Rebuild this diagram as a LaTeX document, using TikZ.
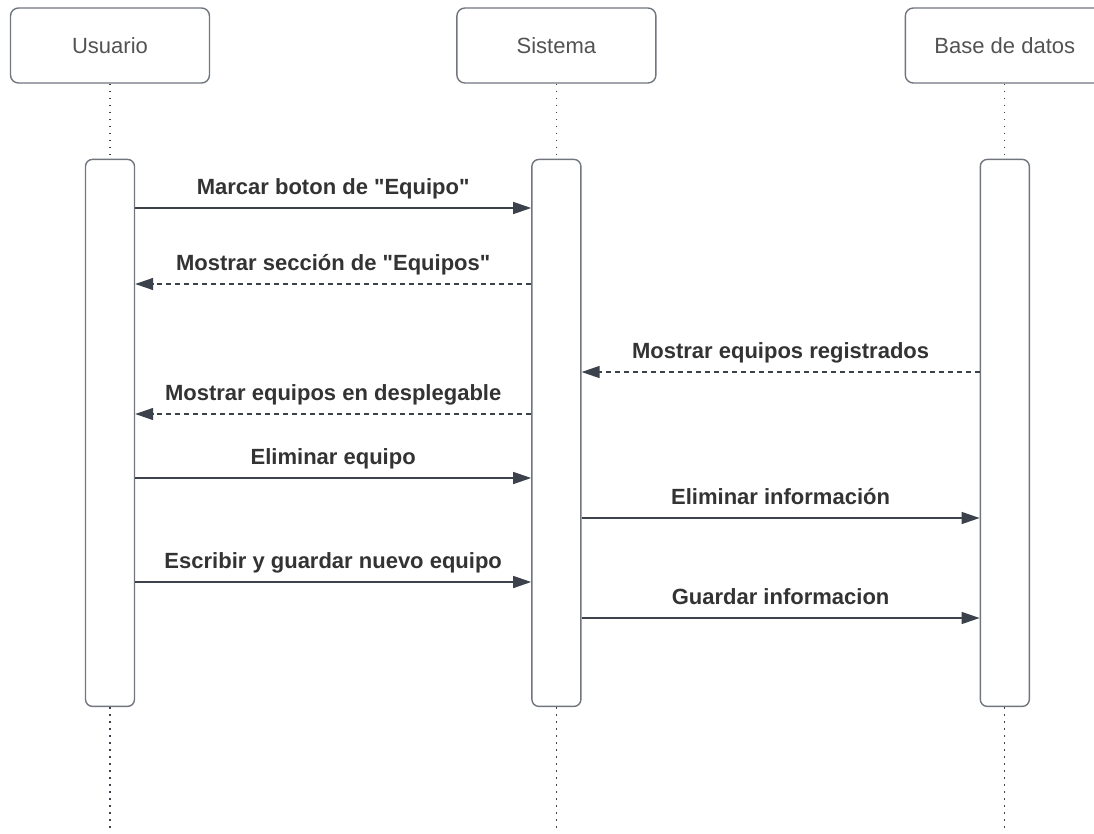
\documentclass[tikz,border=0pt]{standalone}
\usepackage{fontspec}
\setmainfont{Liberation Sans}
\usetikzlibrary{positioning,arrows.meta}
\definecolor{linegray}{RGB}{60,66,76}
\definecolor{boxgray}{RGB}{112,117,126}
\definecolor{txtgray}{RGB}{51,51,51}

\begin{document}
\begin{tikzpicture}[x=1pt, y=-1pt,
    actor/.style={draw=boxgray, line width=1.4pt, rounded corners=8pt, minimum width=199pt, minimum height=75pt, font=\fontsize{22}{26}\selectfont, text=txtgray!85!white},
    act/.style={draw=boxgray, line width=1.4pt, rounded corners=7pt, minimum width=49pt, minimum height=547pt, inner sep=0pt},
    lifeline/.style={draw=linegray, line width=1.2pt, dash pattern=on 1.6pt off 5.4pt},
    msg/.style={draw=linegray, line width=1.4pt, -{Triangle[length=18pt,width=12pt]}},
    reply/.style={msg, dash pattern=on 5pt off 4pt},
    lbl/.style={font=\bfseries\fontsize{22}{26}\selectfont, text=txtgray, anchor=base, yshift=14pt}]
    \useasboundingbox (0,0) rectangle (1094,833);
    \clip (0,0) rectangle (1094,833);

    \node[actor] (U) at (110,45.5) {Usuario};
    \node[actor, right=246pt of U] (S) {Sistema};
    \node[actor, right=248pt of S] (D) {Base de datos};

    \node[act, below=75pt of U] (UA) {};
    \node[act, below=75pt of S] (SA) {};
    \node[act, below=75pt of D] (DA) {};

    \coordinate (Uend) at (U |- 0,833);
    \coordinate (Send) at (S |- 0,833);
    \coordinate (Dend) at (D |- 0,833);

    \path[lifeline]
        (U.south) edge (UA.north)
        (S.south) edge (SA.north)
        (D.south) edge (DA.north)
        (UA.south) edge (Uend)
        (SA.south) edge (Send)
        (DA.south) edge (Dend)
        ;

    \draw[msg] (UA.east |- 0,208) -- node[lbl] {Marcar boton de \textquotedbl Equipo\textquotedbl} (SA.west |- 0,208);
    \draw[reply] (SA.west |- 0,284) -- node[lbl] {Mostrar sección de \textquotedbl Equipos\textquotedbl} (UA.east |- 0,284);
    \draw[reply] (DA.west |- 0,372) -- node[lbl] {Mostrar equipos registrados} (SA.east |- 0,372);
    \draw[reply] (SA.west |- 0,414) -- node[lbl] {Mostrar equipos en desplegable} (UA.east |- 0,414);
    \draw[msg] (UA.east |- 0,478) -- node[lbl] {Eliminar equipo} (SA.west |- 0,478);
    \draw[msg] (SA.east |- 0,518) -- node[lbl] {Eliminar información} (DA.west |- 0,518);
    \draw[msg] (UA.east |- 0,582) -- node[lbl] {Escribir y guardar nuevo equipo} (SA.west |- 0,582);
    \draw[msg] (SA.east |- 0,618) -- node[lbl] {Guardar informacion} (DA.west |- 0,618);
\end{tikzpicture}
\end{document}
